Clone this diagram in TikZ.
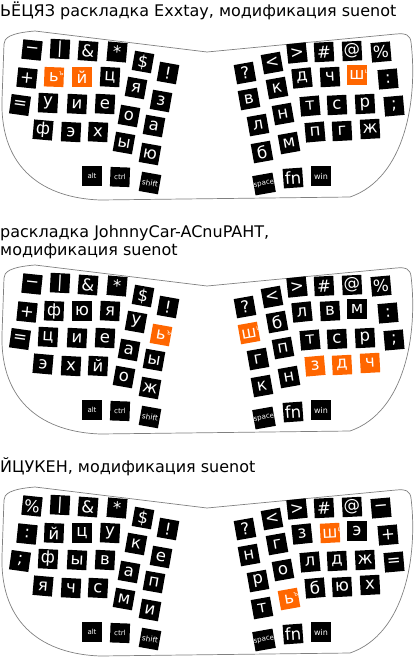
\documentclass[tikz,border=0pt]{standalone}
\usepackage{fontspec}
\setmainfont{DejaVu Sans}
\definecolor{orng}{RGB}{255,102,0}
\newcommand\kbsup[1]{\rlap{\raisebox{6pt}{\kern0.3pt\fontsize{6.5}{6.5}\selectfont #1}}}
\def\LX{{32,60,88,117,143,168,27,54,82,110,136,161,20,48,77,105,129,154,43,71,98,124,150}}
\def\LY{{50,49,51,52,62,73,78,77,77,77,88,101,105,103,104,104,116,126,130,132,132,143,154}}
\def\LR{{-6,-3,-4,-5,-10,-10,-6,-2,0,-3,-10,-10,-8,-3,-3,-3,-10,-10,-5,-3,-3,-10,-10}}
\def\RX{{245,272,297,324,352,381,249,277,302,330,357,388,258,283,310,337,365,394,262,289,315,342,370}}
\def\RY{{73,63,53,52,51,52,99,88,78,77,75,79,125,114,106,105,104,106,152,143,132,131,129}}
\def\RR{{10,10,6,3,3,5,10,10,6,3,0,5,10,10,5,3,3,5,10,10,5,3,3}}
\tikzset{
  kb/.style={draw=black!50, line width=0.7pt},
  key/.style={fill=black, text=white, minimum size=19.5pt, inner sep=0pt, font=\fontsize{16.5}{16.5}\selectfont},
  modkey/.style={key, font=\fontsize{7}{7}\selectfont},
  ttl/.style={anchor=base west, inner sep=0pt, font=\fontsize{16}{19}\selectfont},
}
\newcommand\kbpanel[4]{%
  \begin{scope}[yshift=-#2pt]
    \draw[kb] (4,44) .. controls (4,38) and (10,33) .. (35,31) -- (207,52) -- (396,34)
      .. controls (406,33) and (410,35) .. (411,42)
      .. controls (418,100) and (405,178) .. (350,197) -- (100,200)
      .. controls (45,198) and (0,170) .. (2,100) -- cycle;
    \foreach \t/\c [count=\i from 0] in {#3} {
      \pgfmathsetmacro\kx{\LX[\i]}\pgfmathsetmacro\ky{\LY[\i]}\pgfmathsetmacro\kr{\LR[\i]}
      \node[key, fill=\c, rotate=\kr] (#1L\i) at (\kx,\ky) {\t};
    }
    \foreach \t/\c [count=\i from 0] in {#4} {
      \pgfmathsetmacro\kx{\RX[\i]}\pgfmathsetmacro\ky{\RY[\i]}\pgfmathsetmacro\kr{\RR[\i]}
      \node[key, fill=\c, rotate=\kr] (#1R\i) at (\kx,\ky) {\t};
    }
    \node[modkey] (#1alt) at (92,176) {alt};
    \node[modkey, rotate=-2] (#1ctrl) at (120,177) {ctrl};
    \node[modkey, rotate=-10, font=\fontsize{7.5}{7.5}\selectfont] (#1shift) at (150,183) {shift};
    \node[modkey, rotate=10] (#1space) at (264,184) {space};
    \node[key, rotate=4] (#1fn) at (293,178) {fn};
    \node[modkey, font=\fontsize{8}{8}\selectfont] (#1win) at (321,176) {win};
  \end{scope}}
\begin{document}
\begin{tikzpicture}[x=1pt,y=-1pt]
\useasboundingbox (0,0) rectangle (415,657);
\node[ttl] (t1) at (0,16) {ЬЁЦЯЗ раскладка Exxtay, модификация suenot};
\node[ttl] (t2a) at (0,237) {раскладка JohnnyCar-ACnuPAHT,};
\node[ttl] (t2b) at (0,255) {модификация suenot};
\node[ttl] (t3) at (0,472) {ЙЦУКЕН, модификация suenot};
\kbpanel{a}{0}{−/black,|/black,\&/black,*/black,\$/black,!/black,+/black,{ь\kbsup{ъ}}/orng,й/orng,ц/black,я/black,з/black,=/black,у/black,и/black,е/black,о/black,а/black,ф/black,э/black,х/black,ы/black,ю/black}{?/black,</black,>/black,\#/black,@/black,\%/black,в/black,к/black,д/black,ч/black,{ш\kbsup{щ}}/orng,:/black,л/black,н/black,т/black,с/black,р/black,;/black,б/black,м/black,п/black,г/black,ж/black}
\kbpanel{b}{234}{−/black,|/black,\&/black,*/black,\$/black,!/black,+/black,ф/black,ю/black,я/black,у/black,{ь\kbsup{ъ}}/orng,=/black,ц/black,и/black,е/black,а/black,ы/black,э/black,х/black,й/black,о/black,ж/black}{?/black,</black,>/black,\#/black,@/black,\%/black,{ш\kbsup{щ}}/orng,б/black,л/black,в/black,м/black,:/black,г/black,п/black,т/black,с/black,р/black,;/black,к/black,н/black,з/orng,д/orng,ч/orng}
\kbpanel{c}{456}{\%/black,|/black,\&/black,*/black,\$/black,!/black,:/black,й/black,ц/black,у/black,к/black,е/black,;/black,ф/black,ы/black,в/black,а/black,п/black,я/black,ч/black,с/black,м/black,и/black}{?/black,</black,>/black,\#/black,@/black,−/black,н/black,г/black,з/black,{ш\kbsup{щ}}/orng,э/black,+/black,р/black,о/black,л/black,д/black,ж/black,=/black,т/black,{ь\kbsup{ъ}}/orng,б/black,ю/black,х/black}
\end{tikzpicture}
\end{document}
